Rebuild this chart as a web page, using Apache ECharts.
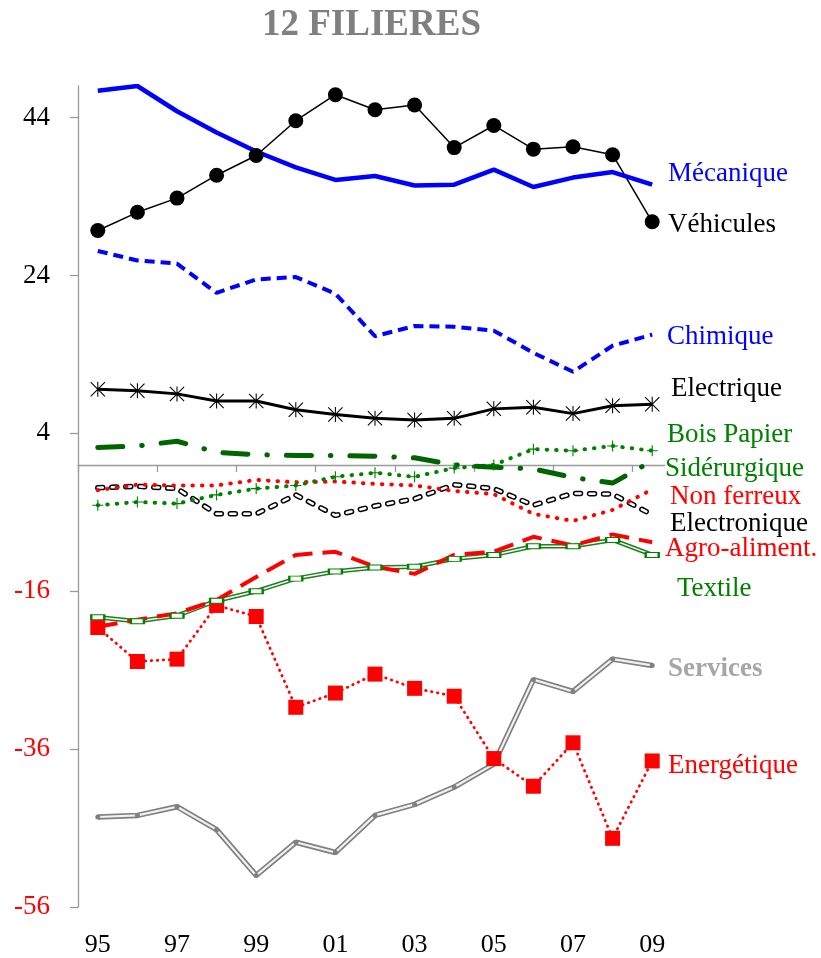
<!DOCTYPE html>
<html>
<head>
<meta charset="utf-8">
<title>12 FILIERES</title>
<script src="https://cdn.jsdelivr.net/npm/echarts@6/dist/echarts.min.js"></script>
<style>
  html, body { margin: 0; padding: 0; background: #fff; }
  #chart { width: 821px; height: 958px; }
</style>
</head>
<body>
<div id="chart"></div>
<script>
// années (abscisses) et graduations de l'axe vertical
const years = ['95', '96', '97', '98', '99', '00', '01', '02', '03', '04', '05', '06', '07', '08', '09'];
const yTicks = [-56, -36, -16, 4, 24, 44];

// soldes par filière
const mecanique    = [47.4, 48.0, 44.8, 42.1, 39.7, 37.7, 36.1, 36.6, 35.4, 35.5, 37.4, 35.2, 36.4, 37.1, 35.5];
const vehicules    = [29.7, 32.0, 33.8, 36.7, 39.2, 43.6, 46.9, 45.0, 45.6, 40.2, 43.0, 40.0, 40.3, 39.3, 30.8];
const chimique     = [27.1, 25.9, 25.5, 21.8, 23.5, 23.8, 21.7, 16.3, 17.6, 17.5, 17.0, 14.2, 11.8, 15.1, 16.5];
const electrique   = [9.6, 9.4, 9.0, 8.1, 8.1, 7.0, 6.4, 5.9, 5.7, 5.9, 7.1, 7.3, 6.5, 7.5, 7.7];
const boisPapier   = [-5.1, -4.7, -4.9, -3.8, -3.0, -2.6, -1.5, -1.0, -1.5, -0.4, 0.0, 2.0, 1.8, 2.4, 1.8];
const siderurgique = [2.2, 2.4, 3.0, 1.6, 1.3, 1.2, 1.2, 1.1, 0.9, 0.0, -0.3, -0.5, -1.6, -2.3, 0.5];
const nonFerreux   = [-3.2, -2.5, -2.6, -2.6, -1.9, -2.2, -2.1, -2.4, -2.6, -3.3, -3.7, -6.2, -7.1, -5.7, -3.1];
const electronique = [-2.9, -2.7, -3.0, -6.2, -6.2, -3.8, -6.4, -5.2, -4.3, -2.5, -3.0, -5.1, -3.6, -3.7, -6.3];
const agroAliment  = [-20.5, -19.6, -18.8, -17.1, -14.2, -11.4, -11.0, -12.9, -13.8, -11.4, -11.0, -9.1, -10.2, -8.8, -9.8];
const textile      = [-19.3, -19.8, -19.1, -17.2, -16.0, -14.4, -13.5, -13.0, -12.9, -11.9, -11.4, -10.3, -10.3, -9.5, -11.4];
const services     = [-44.6, -44.4, -43.3, -46.2, -52.0, -47.8, -49.1, -44.4, -43.0, -40.8, -37.9, -27.2, -28.7, -24.6, -25.4];
const energetique  = [-20.6, -24.9, -24.6, -17.8, -19.2, -30.7, -28.9, -26.5, -28.3, -29.3, -37.2, -40.7, -35.2, -47.3, -37.5];

const FONT = 'Liberation Serif';
const RED = '#ff0000', BLUE = '#0000ff', GREEN = '#008000', AXIS = '#9a9a9a';

// marqueurs dessinés à la main (étoile et croix fines)
const STAR = 'path://M9.3,0L10.7,0L10.7,20L9.3,20Z M0,1L1,0L20,19L19,20Z M19,0L20,1L1,20L0,19Z';
const PLUS = 'path://M9,0L11,0L11,20L9,20Z M0,9L20,9L20,11L0,11Z';

const chart = echarts.init(document.getElementById('chart'));

function line(name, data, lineStyle, extra) {
  return Object.assign({
    name, type: 'line', data,
    symbol: 'none', showAllSymbol: true,
    lineStyle, silent: true, animation: false,
    emphasis: { disabled: true }
  }, extra || {});
}

// étiquettes des filières à droite du tracé
const labels = [
  { text: 'Mécanique',     x: 668, y: 174, color: BLUE },
  { text: 'Véhicules',     x: 668, y: 225, color: '#000' },
  { text: 'Chimique',      x: 667, y: 337, color: BLUE },
  { text: 'Electrique',    x: 671, y: 389, color: '#000' },
  { text: 'Bois Papier',   x: 667, y: 435, color: GREEN },
  { text: 'Sidérurgique',  x: 665, y: 469, color: GREEN, bg: true },
  { text: 'Non ferreux',   x: 670, y: 497, color: RED },
  { text: 'Electronique',  x: 670, y: 524, color: '#000' },
  { text: 'Agro-aliment.', x: 665, y: 549, color: RED },
  { text: 'Textile',       x: 677, y: 589, color: GREEN },
  { text: 'Services',      x: 668, y: 669, color: '#a6a6a6', bold: true },
  { text: 'Energétique',   x: 668, y: 766, color: RED }
];

const graphic = labels.map(l => ({
  type: 'text', x: l.x, y: l.y, z: 100,
  style: {
    text: l.text, fill: l.color,
    font: (l.bold ? 'bold ' : '') + '27px "' + FONT + '"',
    verticalAlign: 'middle', textVerticalAlign: 'middle',
    backgroundColor: l.bg ? '#fff' : null
  }
}));
graphic.push({
  type: 'text', x: 371.5, y: 25, z: 100,
  style: {
    text: '12 FILIERES', fill: '#808080',
    font: 'bold 37px "' + FONT + '"',
    align: 'center', textAlign: 'center',
    verticalAlign: 'middle', textVerticalAlign: 'middle'
  }
});

chart.setOption({
  animation: false,
  grid: { left: 78, right: 149, top: 86, bottom: 50 },
  xAxis: [
    {
      type: 'category', data: years, boundaryGap: true,
      axisLine: { onZero: true, lineStyle: { color: AXIS, width: 1.3 } },
      axisTick: { show: true, interval: 1, length: 7, lineStyle: { color: AXIS, width: 1.3 } },
      axisLabel: { show: false },
      splitLine: { show: false }
    },
    {
      type: 'category', data: years, boundaryGap: true, position: 'bottom',
      axisLine: { show: false, onZero: false },
      axisTick: { show: false },
      axisLabel: { interval: 1, margin: 25, fontFamily: FONT, fontSize: 26, color: '#000' },
      splitLine: { show: false }
    }
  ],
  yAxis: {
    type: 'value', min: -56, max: 48,
    axisLine: { show: true, lineStyle: { color: AXIS, width: 1.3 } },
    axisTick: { show: true, length: 8, customValues: yTicks, lineStyle: { color: AXIS, width: 1.3 } },
    axisLabel: {
      customValues: yTicks, margin: 28,
      fontFamily: FONT, fontSize: 27,
      color: v => (v < 0 ? RED : '#000')
    },
    splitLine: { show: false }
  },
  graphic,
  series: [
    line('Services', services, { color: '#808080', width: 5.5 }),
    line('Services', services, { color: '#f2f2f2', width: 2.2 },
      { symbol: 'circle', symbolSize: 5, itemStyle: { color: '#808080' } }),
    line('Energétique', energetique, { color: RED, width: 2.8, type: [0.5, 5.5], cap: 'round' },
      { symbol: 'rect', symbolSize: 15, itemStyle: { color: RED } }),
    line('Textile', textile, { color: '#1d7f1d', width: 4.5 }),
    line('Textile', textile, { color: '#fff', width: 1.5 },
      { symbol: 'rect', symbolSize: [13, 5], itemStyle: { color: '#fff', borderColor: GREEN, borderWidth: 1.5 } }),
    line('Agro-aliment.', agroAliment, { color: RED, width: 4, type: [20, 10] }),
    line('Electronique', electronique, { color: '#000', width: 5.5, type: [5, 9], cap: 'round' }),
    line('Electronique', electronique, { color: '#fff', width: 2.5, type: [5, 9], cap: 'round' }),
    line('Non ferreux', nonFerreux, { color: RED, width: 4, type: [0.5, 9], cap: 'round' }),
    line('Bois Papier', boisPapier, { color: GREEN, width: 4, type: [0.5, 9], cap: 'round' },
      { symbol: PLUS, symbolSize: 11, itemStyle: { color: GREEN } }),
    line('Sidérurgique', siderurgique, { color: '#006400', width: 5, type: [25, 19, 0.5, 19], cap: 'round' }),
    line('Electrique', electrique, { color: '#000', width: 3 },
      { symbol: STAR, symbolSize: 15, itemStyle: { color: '#000' } }),
    line('Chimique', chimique, { color: BLUE, width: 4, type: [10, 6] }),
    line('Véhicules', vehicules, { color: '#000', width: 1.5 },
      { symbol: 'circle', symbolSize: 15, itemStyle: { color: '#000' } }),
    line('Mécanique', mecanique, { color: BLUE, width: 4.5 })
  ]
});
</script>
</body>
</html>
